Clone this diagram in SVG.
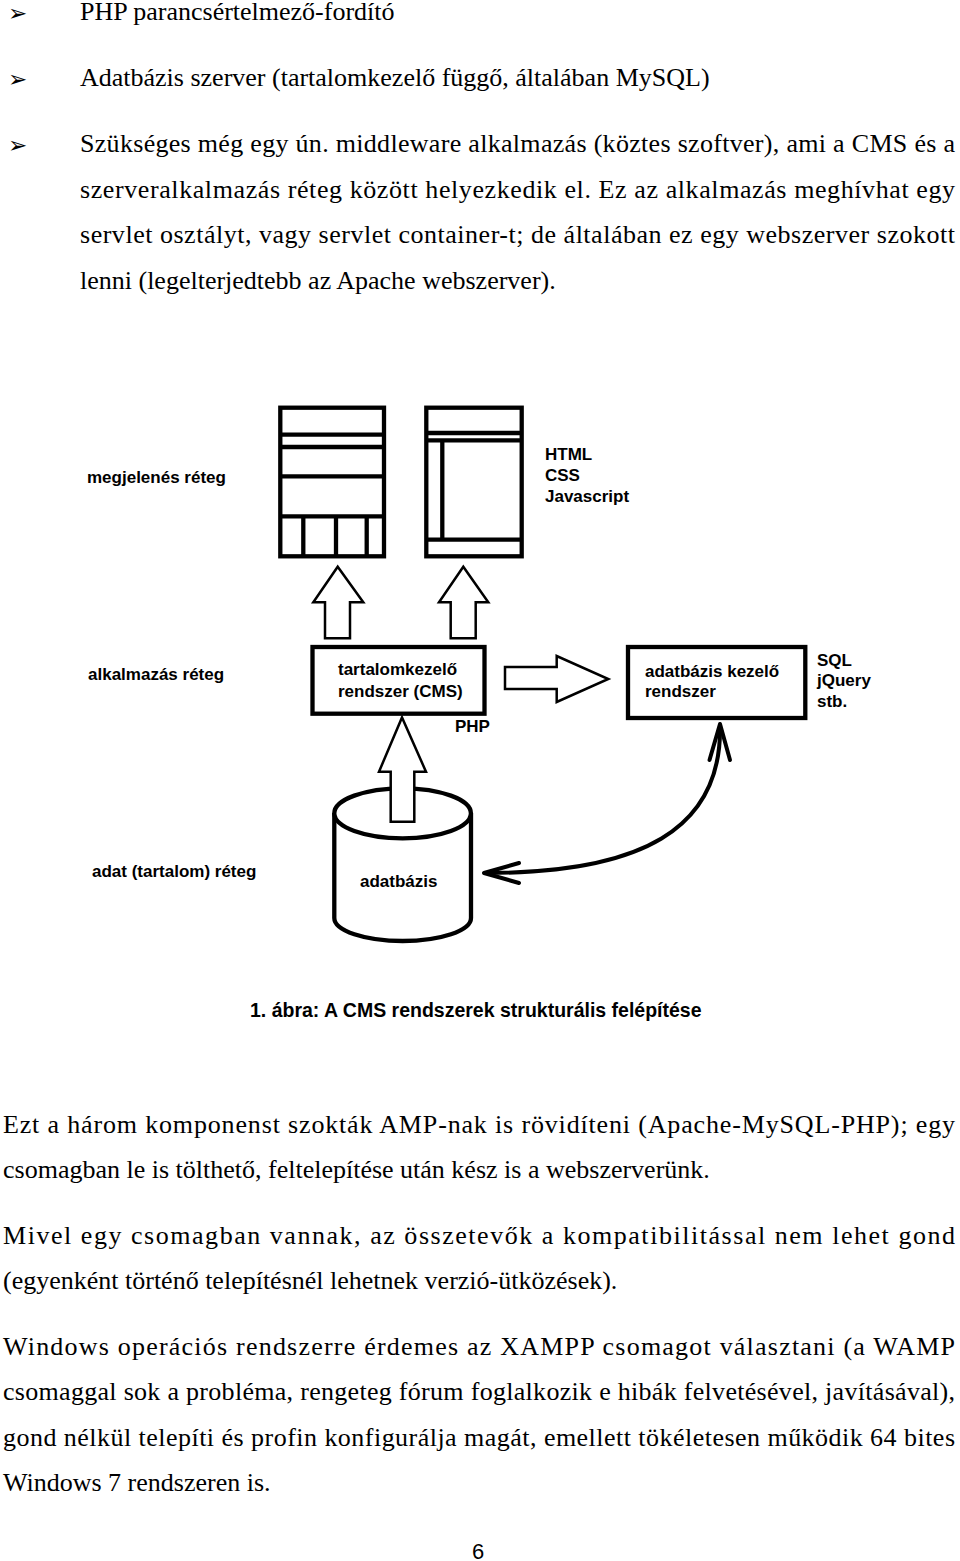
<svg xmlns="http://www.w3.org/2000/svg" width="960" height="1561" viewBox="0 0 960 1561">
<style>
.body{font-family:"Liberation Serif","Times New Roman",serif;font-size:26px;fill:#000}
.bul{font-family:"DejaVu Sans",sans-serif;font-size:23px;fill:#000}
.lbl{font-family:"Liberation Sans",Arial,sans-serif;font-size:17px;font-weight:bold;fill:#000}
.cap{font-family:"Liberation Sans",Arial,sans-serif;font-size:19.5px;font-weight:bold;fill:#000}
.pg{font-family:"Liberation Sans",Arial,sans-serif;font-size:22px;fill:#000}
.thick{fill:none;stroke:#000;stroke-width:4.3}
.box{fill:#fff;stroke:#000;stroke-width:4.3}
.blk{fill:#fff;stroke:#000;stroke-width:2.5;stroke-linejoin:miter}
.curve{fill:none;stroke:#000;stroke-width:4;stroke-linecap:round;stroke-linejoin:round}
</style>
<rect width="960" height="1561" fill="#fff"/>

<g id="top-text">
<text class="bul" x="8" y="21">➢</text>
<text class="body" x="80" y="20">PHP parancsértelmező-fordító</text>
<text class="bul" x="8" y="87">➢</text>
<text class="body" x="80" y="86">Adatbázis szerver (tartalomkezelő függő, általában MySQL)</text>
<text class="bul" x="8" y="153">➢</text>
<text class="body" x="80" y="152" textLength="875" lengthAdjust="spacing">Szükséges még egy ún. middleware alkalmazás (köztes szoftver), ami a CMS és a</text>
<text class="body" x="80" y="198" textLength="875" lengthAdjust="spacing">szerveralkalmazás réteg között helyezkedik el. Ez az alkalmazás meghívhat egy</text>
<text class="body" x="80" y="243" textLength="875" lengthAdjust="spacing">servlet osztályt, vagy servlet container-t; de általában ez egy webszerver szokott</text>
<text class="body" x="80" y="289">lenni (legelterjedtebb az Apache webszerver).</text>
</g>

<g id="layer-labels">
<text class="lbl" x="87" y="483">megjelenés réteg</text>
<text class="lbl" x="88" y="680">alkalmazás réteg</text>
<text class="lbl" x="92" y="877">adat (tartalom) réteg</text>
</g>

<g id="page-icon-1">
<rect class="thick" x="280.3" y="407.7" width="103.7" height="148.6"/>
<line class="thick" x1="280.3" y1="434.7" x2="384" y2="434.7"/>
<line class="thick" x1="280.3" y1="447" x2="384" y2="447"/>
<line class="thick" x1="280.3" y1="476.3" x2="384" y2="476.3"/>
<line class="thick" x1="280.3" y1="516.3" x2="384" y2="516.3"/>
<line class="thick" x1="303.3" y1="516.3" x2="303.3" y2="556.3"/>
<line class="thick" x1="336" y1="516.3" x2="336" y2="556.3"/>
<line class="thick" x1="366.7" y1="516.3" x2="366.7" y2="556.3"/>
</g>

<g id="page-icon-2">
<rect class="thick" x="426.3" y="407.7" width="95.4" height="148.6"/>
<line class="thick" x1="426.3" y1="433" x2="521.7" y2="433"/>
<line class="thick" x1="426.3" y1="440.3" x2="521.7" y2="440.3"/>
<line class="thick" x1="442.3" y1="440.3" x2="442.3" y2="539.7"/>
<line class="thick" x1="426.3" y1="539.7" x2="521.7" y2="539.7"/>
</g>

<g id="tech-label">
<text class="lbl" x="545" y="460">HTML</text>
<text class="lbl" x="545" y="481">CSS</text>
<text class="lbl" x="545" y="502">Javascript</text>
</g>

<g id="cms">
<rect class="box" x="312.5" y="647" width="172" height="66.7"/>
<text class="lbl" x="338" y="675">tartalomkezelő</text>
<text class="lbl" x="338" y="697">rendszer (CMS)</text>
<text class="lbl" x="455" y="732" font-size="16">PHP</text>
</g>

<g id="dbms">
<rect class="box" x="628" y="647" width="177.3" height="71"/>
<text class="lbl" x="645" y="677">adatbázis kezelő</text>
<text class="lbl" x="645" y="697">rendszer</text>
<text class="lbl" x="817" y="666">SQL</text>
<text class="lbl" x="817" y="686">jQuery</text>
<text class="lbl" x="817" y="707">stb.</text>
</g>

<g id="database">
<path class="box" d="M334.3,813 L334.3,918 A68.3,23 0 0 0 471,918 L471,813"/>
<ellipse class="box" cx="402.6" cy="813.3" rx="68.3" ry="25"/>
<text class="lbl" x="360" y="887">adatbázis</text>
</g>

<g id="connectors">
<polygon class="blk" points="325,638.3 325,602.3 313.3,602.3 337.7,566.7 363.3,602.3 350,602.3 350,638.3"/>
<polygon class="blk" points="450.7,638.3 450.7,602.3 439,602.3 463.3,566.7 488.3,602.3 475.7,602.3 475.7,638.3"/>
<polygon class="blk" points="505,667 556.7,667 556.7,656 608.3,679 556.7,702 556.7,689 505,689"/>
<polygon class="blk" points="390.7,821.7 390.7,771.7 379,771.7 402,717.5 426,771.7 414.3,771.7 414.3,821.7"/>
<path class="curve" d="M486,873 C640,873 722,830 720,726"/>
<polyline class="curve" points="519,863 484,873 519,883"/>
<polyline class="curve" points="709.5,760 720,724 730,760"/>
</g>

<g id="caption">
<text class="cap" x="250" y="1017">1. ábra: A CMS rendszerek strukturális felépítése</text>
</g>

<g id="bottom-text">
<text class="body" x="3" y="1133" textLength="952" lengthAdjust="spacing">Ezt a három komponenst szokták AMP-nak is rövidíteni (Apache-MySQL-PHP); egy</text>
<text class="body" x="3" y="1178">csomagban le is tölthető, feltelepítése után kész is a webszerverünk.</text>
<text class="body" x="3" y="1244" textLength="952" lengthAdjust="spacing">Mivel egy csomagban vannak, az összetevők a kompatibilitással nem lehet gond</text>
<text class="body" x="3" y="1289">(egyenként történő telepítésnél lehetnek verzió-ütközések).</text>
<text class="body" x="3" y="1355" textLength="952" lengthAdjust="spacing">Windows operációs rendszerre érdemes az XAMPP csomagot választani (a WAMP</text>
<text class="body" x="3" y="1400" textLength="952" lengthAdjust="spacing">csomaggal sok a probléma, rengeteg fórum foglalkozik e hibák felvetésével, javításával),</text>
<text class="body" x="3" y="1446" textLength="952" lengthAdjust="spacing">gond nélkül telepíti és profin konfigurálja magát, emellett tökéletesen működik 64 bites</text>
<text class="body" x="3" y="1491">Windows 7 rendszeren is.</text>
<text class="pg" x="472" y="1559">6</text>
</g>
</svg>
